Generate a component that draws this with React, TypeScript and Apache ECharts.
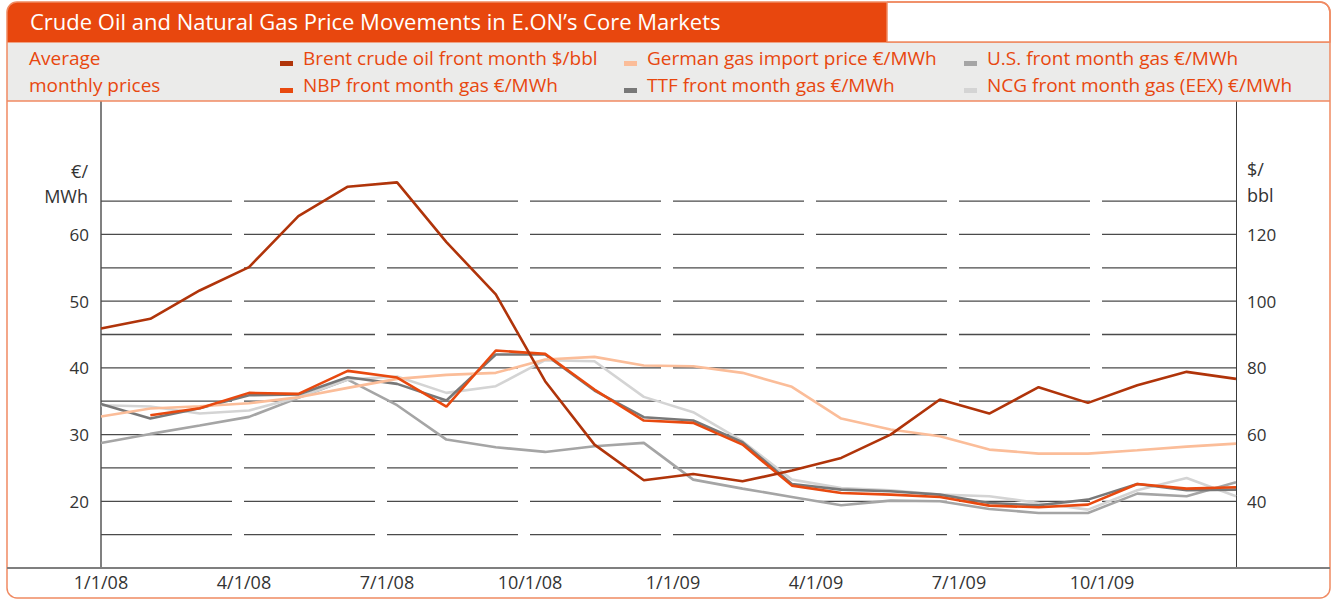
import React, { useEffect, useRef } from 'react';
import * as echarts from 'echarts';

// ---------- data ----------
const months = [
  'Jan 08', 'Feb 08', 'Mar 08', 'Apr 08', 'May 08', 'Jun 08', 'Jul 08', 'Aug 08', 'Sep 08', 'Oct 08', 'Nov 08', 'Dec 08',
  'Jan 09', 'Feb 09', 'Mar 09', 'Apr 09', 'May 09', 'Jun 09', 'Jul 09', 'Aug 09', 'Sep 09', 'Oct 09', 'Nov 09', 'Dec 09',
];
const quarterLabels = ['1/1/08', '4/1/08', '7/1/08', '10/1/08', '1/1/09', '4/1/09', '7/1/09', '10/1/09'];
const quarterAxisMax = 7.937;

const leftLabels = [20, 30, 40, 50, 60];
const rightLabels = [40, 60, 80, 100, 120];
const gridValues = [15, 20, 25, 30, 35, 40, 45, 50, 55, 60, 65];

// $/bbl (right axis)
const brent = [91.8, 94.7, 103.2, 110.2, 125.5, 134.3, 135.6, 117.7, 102, 76, 57, 46.3, 48.2, 46, 49.2, 53, 60, 70.5, 66.3, 74.2, 69.5, 74.8, 78.8, 76.7];
// €/MWh (left axis)
const germanImport = [32.7, 33.9, 34.25, 34.7, 35.6, 37.0, 38.35, 38.95, 39.25, 41.25, 41.65, 40.35, 40.25, 39.25, 37.15, 32.4, 30.75, 29.75, 27.75, 27.15, 27.15, 27.65, 28.2, 28.65];
const usGas = [28.75, 30.1, 31.35, 32.65, 35.5, 38.25, 34.4, 29.25, 28.1, 27.4, 28.25, 28.75, 23.25, 21.9, 20.65, 19.4, 20.1, 20.0, 18.85, 18.25, 18.25, 21.15, 20.75, 22.85];
const nbp = [null, 32.9, 33.95, 36.25, 36.1, 39.55, 38.55, 34.2, 42.6, 42.1, 36.75, 32.1, 31.75, 28.5, 22.35, 21.25, 21.0, 20.65, 19.35, 19.1, 19.5, 22.6, 21.9, 22.1];
const ttf = [34.6, 32.4, 33.95, 35.9, 36.0, 38.6, 37.6, 35.1, 42.0, 42.0, 36.6, 32.6, 32.1, 28.85, 22.6, 21.75, 21.5, 21.0, 19.75, 19.4, 20.25, 22.6, 21.65, 21.75];
const ncg = [34.4, 34.2, 33.15, 33.6, 35.6, 38.25, 38.7, 36.25, 37.25, 41.15, 41.0, 35.65, 33.35, 29.0, 23.25, 22.0, 21.65, 21.0, 20.75, 19.75, 18.75, 21.65, 23.5, 20.75];

const titleText = 'Crude Oil and Natural Gas Price Movements in E.ON’s Core Markets';
const legendIntro = ['Average', 'monthly prices'];

const NAME_BRENT = 'Brent crude oil front month $/bbl';
const NAME_GERMAN = 'German gas import price €/MWh';
const NAME_US = 'U.S. front month gas €/MWh';
const NAME_NBP = 'NBP front month gas €/MWh';
const NAME_TTF = 'TTF front month gas €/MWh';
const NAME_NCG = 'NCG front month gas (EEX) €/MWh';

// ---------- styles ----------
const FONT = '"Open Sans", "Noto Sans", sans-serif';
const ORANGE = '#e8470e';
const BORDER = '#f08a62';
const COLORS: Record<string, string> = {
  [NAME_BRENT]: '#b0340a',
  [NAME_GERMAN]: '#fbbd99',
  [NAME_US]: '#a5a5a5',
  [NAME_NBP]: '#e8490f',
  [NAME_TTF]: '#787878',
  [NAME_NCG]: '#d4d4d4',
};

const legendLayout = [
  { name: NAME_BRENT, x: 280, y: 58 },
  { name: NAME_GERMAN, x: 624, y: 58 },
  { name: NAME_US, x: 964, y: 58 },
  { name: NAME_NBP, x: 280, y: 85 },
  { name: NAME_TTF, x: 624, y: 85 },
  { name: NAME_NCG, x: 964, y: 85 },
];

export default function App() {
  const ref = useRef<HTMLDivElement>(null);

  useEffect(() => {
    if (!ref.current) return;
    const chart = echarts.init(ref.current, undefined, { renderer: 'svg' });

    const txt = (text: string, x: number, y: number, size: number, fill: string, align = 'left') => ({
      type: 'text',
      z: 10,
      style: {
        text, x, y, fill,
        fontSize: size, fontFamily: FONT,
        align, verticalAlign: 'middle',
        textAlign: align, textVerticalAlign: 'middle',
      },
    });

    const graphics: any[] = [
      // legend band
      { type: 'rect', z: 1, shape: { x: 7, y: 42, width: 1323, height: 59 }, style: { fill: '#ebebea' } },
      { type: 'line', z: 2, shape: { x1: 7, y1: 42, x2: 1330, y2: 42 }, style: { stroke: BORDER, lineWidth: 1.5 } },
      { type: 'line', z: 2, shape: { x1: 7, y1: 101, x2: 1330, y2: 101 }, style: { stroke: BORDER, lineWidth: 1.5 } },
      // title bar
      { type: 'rect', z: 2, shape: { x: 7, y: 2, width: 880, height: 40, r: [10, 0, 0, 0] }, style: { fill: ORANGE } },
      { type: 'rect', z: 2, shape: { x: 887, y: 2, width: 443, height: 40, r: [0, 10, 0, 0] }, style: { fill: '#ffffff', stroke: BORDER, lineWidth: 1.5 } },
      txt(titleText, 30, 21, 22, '#ffffff'),
      // outer frame
      { type: 'rect', z: 3, shape: { x: 7, y: 2, width: 1323, height: 596, r: 10 }, style: { fill: 'none', stroke: BORDER, lineWidth: 1.5 } },
      // x baseline across the whole frame
      { type: 'line', z: 3, shape: { x1: 7, y1: 568, x2: 1330, y2: 568 }, style: { stroke: '#7f7f7f', lineWidth: 2 } },
      txt(legendIntro[0], 29, 58, 19, ORANGE),
      txt(legendIntro[1], 29, 85, 19, ORANGE),
      // unit labels
      txt('€/', 88, 171, 18, '#333333', 'right'),
      txt('MWh', 88, 196, 18, '#333333', 'right'),
      txt('$/', 1247, 169, 18, '#333333'),
      txt('bbl', 1247, 195, 18, '#333333'),
    ];
    legendLayout.forEach((item) => {
      graphics.push({ type: 'rect', z: 10, shape: { x: item.x, y: item.y + 3, width: 13, height: 5 }, style: { fill: COLORS[item.name] } });
      graphics.push(txt(item.name, item.x + 23, item.y, 19, ORANGE));
    });

    const line = (name: string, data: (number | null)[], yAxisIndex = 0) => ({
      type: 'line',
      name,
      data,
      xAxisIndex: 0,
      yAxisIndex,
      symbol: 'none',
      z: 5,
      lineStyle: { color: COLORS[name], width: 2.6 },
      itemStyle: { color: COLORS[name] },
    });

    const option: any = {
      animation: false,
      textStyle: { fontFamily: FONT },
      grid: { left: 101, right: 96, top: 101, bottom: 32, containLabel: false },
      xAxis: [
        { type: 'category', data: months, boundaryGap: false, show: false, position: 'top' },
        {
          type: 'value', min: 0, max: quarterAxisMax, interval: 1, position: 'bottom',
          axisLine: { show: false }, axisTick: { show: false }, splitLine: { show: false },
          axisLabel: {
            margin: 5, fontSize: 18, color: '#333333', fontFamily: FONT,
            formatter: (v: number) => (Number.isInteger(v) && quarterLabels[v] !== undefined ? quarterLabels[v] : ''),
          },
        },
      ],
      yAxis: [
        {
          type: 'value', min: 10, max: 80, interval: 5, position: 'left',
          axisLine: { show: true, onZero: false, lineStyle: { color: '#808080', width: 2 } },
          axisTick: { show: false }, splitLine: { show: false },
          axisLabel: {
            margin: 12, fontSize: 17, color: '#333333', fontFamily: FONT,
            formatter: (v: number) => (leftLabels.includes(v) ? String(v) : ''),
          },
        },
        {
          type: 'value', min: 20, max: 160, interval: 10, position: 'right',
          axisLine: { show: true, onZero: false, lineStyle: { color: '#3a3a3a', width: 1 } },
          axisTick: { show: false }, splitLine: { show: false },
          axisLabel: {
            margin: 11, fontSize: 17, color: '#333333', fontFamily: FONT,
            formatter: (v: number) => (rightLabels.includes(v) ? String(v) : ''),
          },
        },
      ],
      graphic: graphics,
      series: [
        {
          type: 'custom',
          name: 'grid',
          xAxisIndex: 1,
          yAxisIndex: 0,
          silent: true,
          z: 1,
          clip: false,
          data: gridValues.map((v) => [0, v]),
          encode: { x: 0, y: 1 },
          renderItem: (params: any, api: any) => {
            const v = api.value(1);
            const endX = api.coord([quarterAxisMax, v])[0];
            const children: any[] = [];
            for (let k = 0; k < quarterLabels.length; k++) {
              const a = api.coord([k, v]);
              const bx = k < quarterLabels.length - 1 ? api.coord([k + 1, v])[0] - 12 : endX;
              children.push({
                type: 'line',
                shape: { x1: a[0], y1: a[1], x2: bx, y2: a[1] },
                style: { stroke: '#4a4a4a', lineWidth: 1.3 },
              });
            }
            return { type: 'group', children };
          },
        },
        line(NAME_US, usGas),
        line(NAME_NCG, ncg),
        line(NAME_TTF, ttf),
        line(NAME_GERMAN, germanImport),
        line(NAME_NBP, nbp),
        line(NAME_BRENT, brent, 1),
      ],
    };

    chart.setOption(option);
    return () => chart.dispose();
  }, []);

  return (
    <div
      ref={ref}
      style={{ position: 'absolute', left: 0, top: 0, width: 1332, height: 600, background: '#ffffff' }}
    />
  );
}
